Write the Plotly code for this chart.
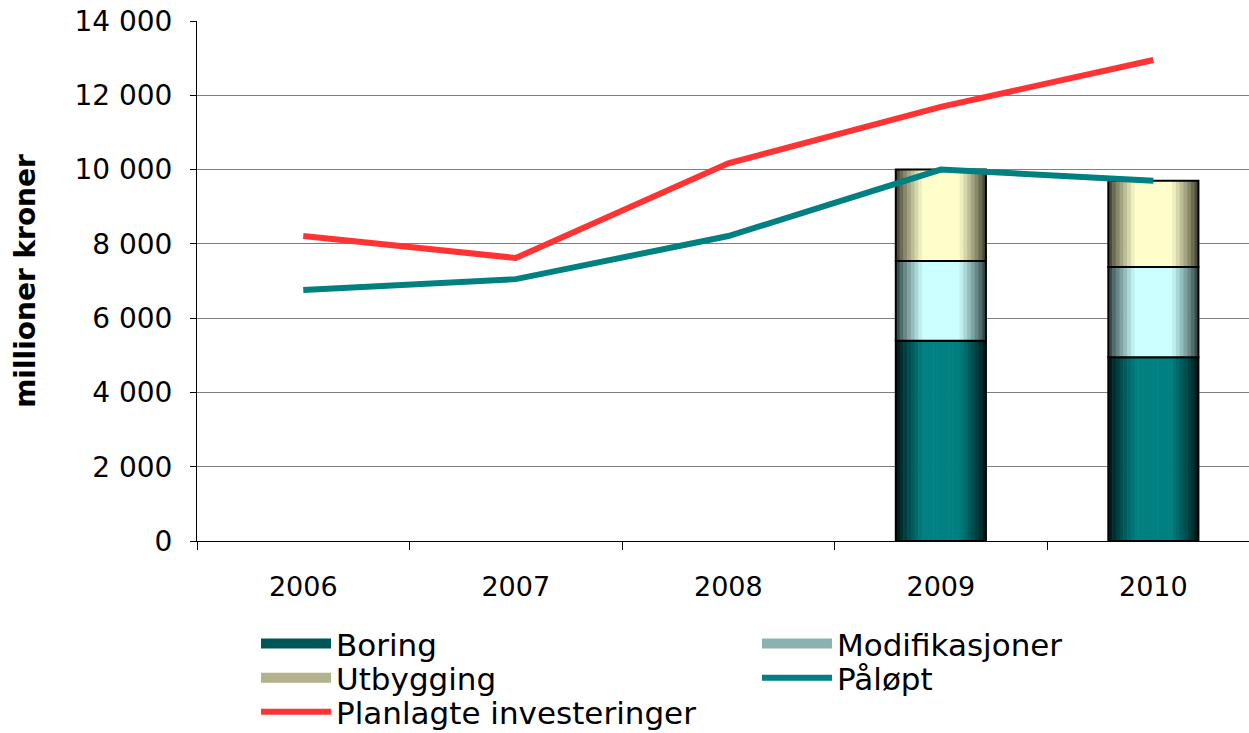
import plotly.graph_objects as go

# data (millioner kroner)
years = ['2006', '2007', '2008', '2009', '2010']
boring = [None, None, None, 5390, 4950]
modifikasjoner = [None, None, None, 2150, 2430]
utbygging = [None, None, None, 2460, 2320]
palopt = [6760, 7050, 8210, 10000, 9700]
planlagte = [8210, 7620, 10170, 11690, 12950]

FONT = 'DejaVu Sans'
BAR_W = 0.424
N_STRIPS = 24


def stack_base(*parts):
    out = []
    for vals in zip(*parts):
        if any(v is None for v in vals):
            out.append(None)
        else:
            out.append(sum(vals))
    return out


def shade(edge, centre, u):
    # dark at both edges, light in the middle (cylinder look)
    t = 1 - abs(2 * u - 1)
    f = min(1.0, t / 0.6) ** 0.85
    c = [round(e + (m - e) * f) for e, m in zip(edge, centre)]
    return 'rgb(%d,%d,%d)' % tuple(c)


segments = [
    ('Boring', boring, [0] * len(years), (0, 18, 18), (0, 128, 128), 'legend'),
    ('Modifikasjoner', modifikasjoner, stack_base(boring), (35, 55, 55), (204, 255, 255), 'legend2'),
    ('Utbygging', utbygging, stack_base(boring, modifikasjoner), (55, 55, 40), (255, 255, 204), 'legend3'),
]

fig = go.Figure()

for name, vals, base, edge, centre, leg in segments:
    step = BAR_W / N_STRIPS
    for k in range(N_STRIPS):
        u = (k + 0.5) / N_STRIPS
        fig.add_trace(go.Bar(
            x=years, y=vals, base=base,
            width=step * 1.15, offset=-BAR_W / 2 + k * step,
            marker=dict(color=shade(edge, centre, u), line=dict(width=0)),
            showlegend=False, hoverinfo='skip'))
    # black outline on top of the strips
    fig.add_trace(go.Bar(
        x=years, y=vals, base=base, width=BAR_W, name=name,
        marker=dict(color='rgba(0,0,0,0)', line=dict(color='black', width=2)),
        showlegend=False))

# legend-only entries for the bar segments (thick swatch)
for name, vals, base, edge, centre, leg in segments:
    fig.add_trace(go.Scatter(
        x=[None], y=[None], name=name, legend=leg, mode='lines',
        line=dict(color=shade(edge, centre, 0.17), width=20)))

fig.add_trace(go.Scatter(
    x=years, y=palopt, name='Påløpt', mode='lines', legend='legend4',
    line=dict(color='#008080', width=6)))
fig.add_trace(go.Scatter(
    x=years, y=planlagte, name='Planlagte investeringer', mode='lines', legend='legend5',
    line=dict(color='#FF3333', width=6)))

leg_font = dict(family=FONT, size=31, color='black')


def leg(x, y):
    return dict(x=x, y=y, xanchor='left', yanchor='middle', font=leg_font,
                itemwidth=70, bgcolor='rgba(0,0,0,0)', borderwidth=0,
                tracegroupgap=0)


fig.update_layout(
    width=1249, height=733,
    margin=dict(l=197, r=0, t=21, b=192, autoexpand=False),
    paper_bgcolor='white', plot_bgcolor='white',
    barmode='overlay',
    separators='. ',
    font=dict(family=FONT, size=27, color='black'),
    showlegend=True,
    legend=leg(0.0561, -0.198),
    legend2=leg(0.5323, -0.198),
    legend3=leg(0.0561, -0.2635),
    legend4=leg(0.5323, -0.2635),
    legend5=leg(0.0561, -0.3288),
    xaxis=dict(
        type='category', range=[-0.5, 4.45], automargin=False,
        tickson='boundaries', ticks='outside', ticklen=8, tickcolor='black',
        showline=True, linecolor='black', linewidth=1,
        showgrid=False, ticklabelstandoff=22,
        tickfont=dict(family=FONT, size=27)),
    yaxis=dict(
        range=[0, 14000], dtick=2000, tickformat=',d', automargin=False,
        ticks='outside', ticklen=6, tickcolor='black',
        showline=True, linecolor='black', linewidth=1,
        showgrid=True, gridcolor='#7f7f7f', gridwidth=1,
        zeroline=False, ticklabelstandoff=12, ticklabeloverflow='allow',
        tickfont=dict(family=FONT, size=28),
        title=dict(text='<b>millioner kroner</b>', standoff=30,
                   font=dict(family=FONT, size=28))),
)

# drop the default 8px page margin so the figure fills the window
fig.write_html("out.html",
               config={'displayModeBar': False},
               post_script="document.body.style.margin='0';"
                           "document.body.style.overflow='hidden';")
